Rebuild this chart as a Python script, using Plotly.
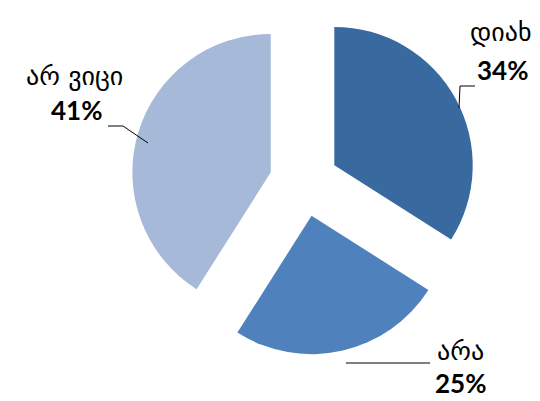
import plotly.graph_objects as go

labels = ["დიახ", "არა", "არ ვიცი"]
values = [34, 25, 41]
percent_text = ["34%", "25%", "41%"]
colors = ["#386A9F", "#4F81BD", "#A7B9D8"]

W, H = 540, 401

def px(x):
    return x / W

def py(y):
    return 1 - y / H

fig = go.Figure(go.Pie(
    labels=labels,
    values=values,
    sort=False,
    direction="clockwise",
    rotation=0,
    pull=[0.25, 0.25, 0.25],
    marker=dict(colors=colors, line=dict(width=0)),
    textinfo="none",
    hoverinfo="label+percent",
    domain=dict(x=[px(123), px(469)], y=[py(347), py(1)]),
    showlegend=False,
))

label_font = dict(family="DejaVu Sans", size=26, color="#000000")
pct_font = dict(family="Lato, DejaVu Sans", size=26, color="#000000")

# label positions (pixel centres)
label_pos = {
    "დიახ": (493, 24, 494, 62),
    "არა": (452, 343, 452, 375),
    "არ ვიცი": (66, 68, 68, 102),
}
annotations = []
for lab, pct in zip(labels, percent_text):
    lx, ly, tx, ty = label_pos[lab]
    annotations.append(dict(x=px(lx), y=py(ly), xref="paper", yref="paper",
                            text=lab, showarrow=False, font=label_font,
                            xanchor="center", yanchor="middle"))
    annotations.append(dict(x=px(tx), y=py(ty), xref="paper", yref="paper",
                            text="<b>" + pct + "</b>", showarrow=False, font=pct_font,
                            xanchor="center", yanchor="middle"))

leader_lines = [
    [(467, 78), (452, 78), (451, 100)],
    [(422, 355), (338, 355)],
    [(100, 118), (115, 118), (140, 135)],
]
shapes = []
for pts in leader_lines:
    path = "M " + " L ".join(f"{px(x)},{py(y)}" for x, y in pts)
    shapes.append(dict(type="path", xref="paper", yref="paper", path=path,
                       line=dict(color="#000000", width=1)))

fig.update_layout(
    width=W, height=H,
    margin=dict(l=0, r=0, t=0, b=0),
    paper_bgcolor="white",
    plot_bgcolor="white",
    annotations=annotations,
    shapes=shapes,
)

fig.write_html("out.html")
